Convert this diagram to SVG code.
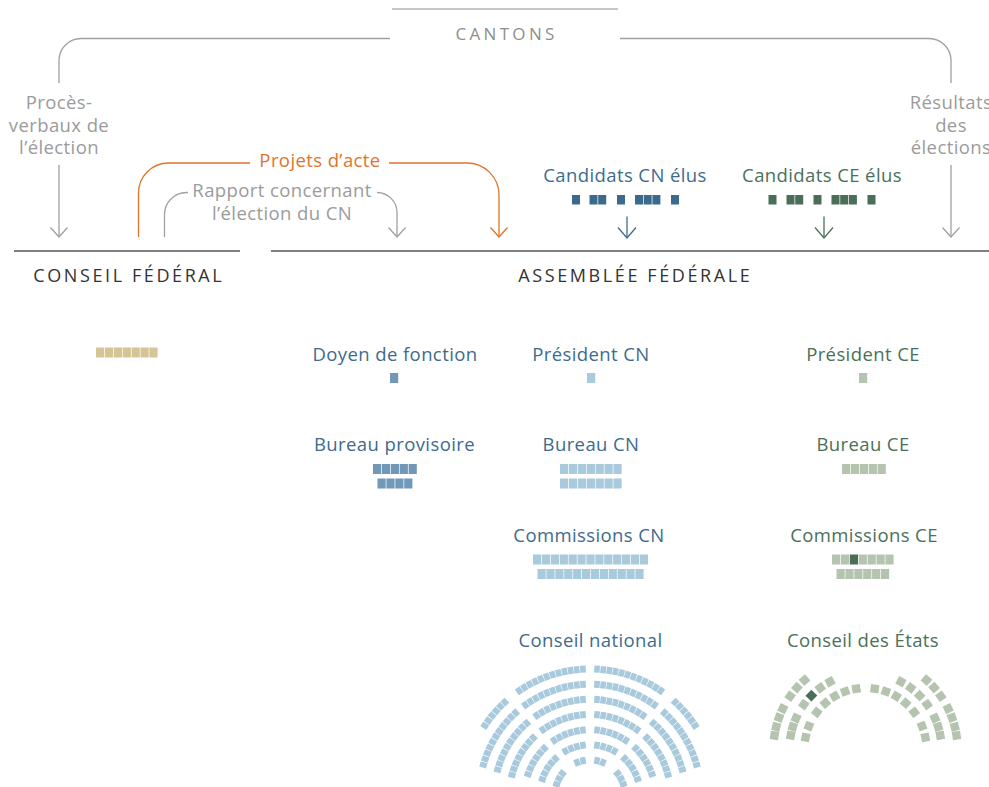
<svg xmlns="http://www.w3.org/2000/svg" width="989" height="787" viewBox="0 0 989 787">
<style>
text{font-family:"Open Sans","Noto Sans",sans-serif;font-size:18.5px;letter-spacing:0.4px;text-anchor:middle}
.grey{fill:#9b9b9b}
.blue{fill:#3d6b8e}
.green{fill:#4a7059}
.orange{fill:#e0742c}
.head{font-size:18px;letter-spacing:2.6px;fill:#333}
.cant{font-size:17px;letter-spacing:3.3px;fill:#8e8e8e}
.cf{fill:#d6c594}
.db{fill:#7198b6}
.ln{fill:#a9c9dc}
.lg{fill:#b5c4ae}
.dn{fill:#3b6a8c}
.dg{fill:#4a6e58}
.c{fill:none;stroke-width:1.3}
.cg{stroke:#a0a0a0}
.co{stroke:#e0742c}
.cb{stroke:#3d6b8e}
.cgr{stroke:#4a7059}
.rule{stroke:#555;stroke-width:1.5}
</style>
<defs>
<marker id="mg" markerUnits="userSpaceOnUse" markerWidth="20" markerHeight="20" orient="auto" overflow="visible"><path d="M-9.5,-8.5L0,0L-9.5,8.5" fill="none" stroke="#a0a0a0" stroke-width="1.3"/></marker>
<marker id="mo" markerUnits="userSpaceOnUse" markerWidth="20" markerHeight="20" orient="auto" overflow="visible"><path d="M-9.5,-8.5L0,0L-9.5,8.5" fill="none" stroke="#e0742c" stroke-width="1.3"/></marker>
<marker id="mb" markerUnits="userSpaceOnUse" markerWidth="20" markerHeight="20" orient="auto" overflow="visible"><path d="M-10.5,-9L0,0L-10.5,9" fill="none" stroke="#3d6b8e" stroke-width="1.3"/></marker>
<marker id="mgr" markerUnits="userSpaceOnUse" markerWidth="20" markerHeight="20" orient="auto" overflow="visible"><path d="M-10.5,-9L0,0L-10.5,9" fill="none" stroke="#4a7059" stroke-width="1.3"/></marker>
<rect id="c0" x="-2.8" y="-38.5" width="5.6" height="7"/>
<rect id="c1" x="-2.8" y="-53.7" width="5.6" height="7"/>
<rect id="c2" x="-2.8" y="-68.8" width="5.6" height="7"/>
<rect id="c3" x="-2.8" y="-84" width="5.6" height="7"/>
<rect id="c4" x="-2.8" y="-99.2" width="5.6" height="7"/>
<rect id="c5" x="-2.8" y="-114.3" width="5.6" height="7"/>
<rect id="c6" x="-2.8" y="-129.5" width="5.6" height="7"/>
<rect id="e0" x="-4.2" y="-65.2" width="8.4" height="8.4"/>
<rect id="e1" x="-4.2" y="-80.2" width="8.4" height="8.4"/>
<rect id="e2" x="-4.2" y="-96.2" width="8.4" height="8.4"/>
</defs>

<g id="cantons">
<line x1="392" y1="9" x2="618" y2="9" stroke="#8e8e8e" stroke-width="1.2"/>
<text class="cant" x="506.6" y="40">CANTONS</text>
</g>

<g id="connectors">
<path class="c cg" d="M390,38.5H81A22,22 0 0 0 59,60.5V83"/>
<path class="c cg" d="M620,38.5H929A22,22 0 0 1 951,60.5V83"/>
<path class="c cg" d="M59,165V237" marker-end="url(#mg)"/>
<path class="c cg" d="M951,165V237" marker-end="url(#mg)"/>
<path class="c co" d="M138.5,237V193A30,30 0 0 1 168.5,163H250"/>
<path class="c co" d="M389,163H467A32,32 0 0 1 499,195V237" marker-end="url(#mo)"/>
<path class="c cg" d="M164.5,237V214.5A22,22 0 0 1 186.5,192.5H188"/>
<path class="c cg" d="M377,192.5A20,20 0 0 1 397,212.5V237" marker-end="url(#mg)"/>
<path class="c cb" d="M627,216.5V238" marker-end="url(#mb)"/>
<path class="c cgr" d="M824,216.5V238" marker-end="url(#mgr)"/>
<text class="grey" x="59" y="109">Procès-<tspan x="59" dy="22.5">verbaux de</tspan><tspan x="59" dy="22.5">l’élection</tspan></text>
<text class="grey" x="951" y="109">Résultats<tspan x="951" dy="22.5">des</tspan><tspan x="951" dy="22.5">élections</tspan></text>
<text class="orange" x="320" y="167">Projets d’acte</text>
<text class="grey" x="282" y="197">Rapport concernant<tspan x="282" dy="23">l’élection du CN</tspan></text>
</g>

<g id="conseil-federal">
<line class="rule" x1="14" y1="251" x2="240" y2="251"/>
<text class="head" x="128.8" y="282">CONSEIL FÉDÉRAL</text>
<g class="cf">
<rect x="96" y="347.5" width="8.2" height="10"/><rect x="104.9" y="347.5" width="8.2" height="10"/><rect x="113.8" y="347.5" width="8.2" height="10"/><rect x="122.7" y="347.5" width="8.2" height="10"/><rect x="131.6" y="347.5" width="8.2" height="10"/><rect x="140.5" y="347.5" width="8.2" height="10"/><rect x="149.4" y="347.5" width="8.2" height="10"/>
</g>
</g>

<g id="assemblee-federale">
<line class="rule" x1="271" y1="251" x2="989" y2="251"/>
<text class="head" x="635.3" y="282">ASSEMBLÉE FÉDÉRALE</text>
</g>

<g id="candidats-cn">
<text class="blue" x="625" y="182">Candidats CN élus</text>
<g class="dn">
<rect x="572" y="195" width="8" height="9.5"/><rect x="589.5" y="195" width="8" height="9.5"/><rect x="598.2" y="195" width="8" height="9.5"/><rect x="617" y="195" width="8" height="9.5"/><rect x="635" y="195" width="8" height="9.5"/><rect x="643.7" y="195" width="8" height="9.5"/><rect x="652.4" y="195" width="8" height="9.5"/><rect x="671" y="195" width="8" height="9.5"/>
</g>
</g>

<g id="candidats-ce">
<text class="green" x="822" y="182">Candidats CE élus</text>
<g class="dg">
<rect x="768.5" y="195" width="8" height="9.5"/><rect x="786.5" y="195" width="8" height="9.5"/><rect x="795.2" y="195" width="8" height="9.5"/><rect x="813.5" y="195" width="8" height="9.5"/><rect x="831.5" y="195" width="8" height="9.5"/><rect x="840.2" y="195" width="8" height="9.5"/><rect x="848.9" y="195" width="8" height="9.5"/><rect x="867.5" y="195" width="8" height="9.5"/>
</g>
</g>

<g id="doyen">
<text class="blue" x="395" y="361">Doyen de fonction</text>
<rect class="db" x="390" y="373" width="8.2" height="10"/>
</g>

<g id="president-cn">
<text class="blue" x="591" y="361">Président CN</text>
<rect class="ln" x="587" y="373" width="8.2" height="10"/>
</g>

<g id="president-ce">
<text class="green" x="863" y="361">Président CE</text>
<rect class="lg" x="859" y="373" width="8.2" height="10"/>
</g>

<g id="bureau-provisoire">
<text class="blue" x="394.5" y="451">Bureau provisoire</text>
<g class="db">
<rect x="373" y="464" width="8.2" height="10"/><rect x="381.9" y="464" width="8.2" height="10"/><rect x="390.8" y="464" width="8.2" height="10"/><rect x="399.7" y="464" width="8.2" height="10"/><rect x="408.6" y="464" width="8.2" height="10"/>
<rect x="377.5" y="478.5" width="8.2" height="10"/><rect x="386.4" y="478.5" width="8.2" height="10"/><rect x="395.3" y="478.5" width="8.2" height="10"/><rect x="404.2" y="478.5" width="8.2" height="10"/>
</g>
</g>

<g id="bureau-cn">
<text class="blue" x="591" y="451">Bureau CN</text>
<g class="ln">
<rect x="560" y="464" width="8.2" height="10"/><rect x="568.9" y="464" width="8.2" height="10"/><rect x="577.8" y="464" width="8.2" height="10"/><rect x="586.7" y="464" width="8.2" height="10"/><rect x="595.6" y="464" width="8.2" height="10"/><rect x="604.5" y="464" width="8.2" height="10"/><rect x="613.4" y="464" width="8.2" height="10"/>
<rect x="560" y="478.5" width="8.2" height="10"/><rect x="568.9" y="478.5" width="8.2" height="10"/><rect x="577.8" y="478.5" width="8.2" height="10"/><rect x="586.7" y="478.5" width="8.2" height="10"/><rect x="595.6" y="478.5" width="8.2" height="10"/><rect x="604.5" y="478.5" width="8.2" height="10"/><rect x="613.4" y="478.5" width="8.2" height="10"/>
</g>
</g>

<g id="bureau-ce">
<text class="green" x="863" y="451">Bureau CE</text>
<g class="lg">
<rect x="842" y="464" width="8.2" height="10"/><rect x="850.9" y="464" width="8.2" height="10"/><rect x="859.8" y="464" width="8.2" height="10"/><rect x="868.7" y="464" width="8.2" height="10"/><rect x="877.6" y="464" width="8.2" height="10"/>
</g>
</g>

<g id="commissions-cn">
<text class="blue" x="589" y="542">Commissions CN</text>
<g class="ln">
<rect x="533" y="554.5" width="8.2" height="10"/><rect x="541.9" y="554.5" width="8.2" height="10"/><rect x="550.8" y="554.5" width="8.2" height="10"/><rect x="559.7" y="554.5" width="8.2" height="10"/><rect x="568.6" y="554.5" width="8.2" height="10"/><rect x="577.5" y="554.5" width="8.2" height="10"/><rect x="586.4" y="554.5" width="8.2" height="10"/><rect x="595.3" y="554.5" width="8.2" height="10"/><rect x="604.2" y="554.5" width="8.2" height="10"/><rect x="613.1" y="554.5" width="8.2" height="10"/><rect x="622" y="554.5" width="8.2" height="10"/><rect x="630.9" y="554.5" width="8.2" height="10"/><rect x="639.8" y="554.5" width="8.2" height="10"/>
<rect x="537.5" y="569" width="8.2" height="10"/><rect x="546.4" y="569" width="8.2" height="10"/><rect x="555.3" y="569" width="8.2" height="10"/><rect x="564.2" y="569" width="8.2" height="10"/><rect x="573.1" y="569" width="8.2" height="10"/><rect x="582" y="569" width="8.2" height="10"/><rect x="590.9" y="569" width="8.2" height="10"/><rect x="599.8" y="569" width="8.2" height="10"/><rect x="608.7" y="569" width="8.2" height="10"/><rect x="617.6" y="569" width="8.2" height="10"/><rect x="626.5" y="569" width="8.2" height="10"/><rect x="635.4" y="569" width="8.2" height="10"/>
</g>
</g>

<g id="commissions-ce">
<text class="green" x="864" y="542">Commissions CE</text>
<g class="lg">
<rect x="832" y="554.5" width="8.2" height="10"/><rect x="840.9" y="554.5" width="8.2" height="10"/><rect class="dg" x="849.8" y="554.5" width="8.2" height="10"/><rect x="858.7" y="554.5" width="8.2" height="10"/><rect x="867.6" y="554.5" width="8.2" height="10"/><rect x="876.5" y="554.5" width="8.2" height="10"/><rect x="885.4" y="554.5" width="8.2" height="10"/>
<rect x="836.5" y="569" width="8.2" height="10"/><rect x="845.4" y="569" width="8.2" height="10"/><rect x="854.3" y="569" width="8.2" height="10"/><rect x="863.2" y="569" width="8.2" height="10"/><rect x="872.1" y="569" width="8.2" height="10"/><rect x="881" y="569" width="8.2" height="10"/>
</g>
</g>

<g id="conseil-national">
<text class="blue" x="590.5" y="647">Conseil national</text>
<g class="ln" transform="translate(590 795)">
<use href="#c6" transform="rotate(-3.2)"/><use href="#c6" transform="rotate(-6.02)"/><use href="#c6" transform="rotate(-8.84)"/><use href="#c6" transform="rotate(-11.66)"/><use href="#c6" transform="rotate(-14.48)"/><use href="#c6" transform="rotate(-17.3)"/><use href="#c6" transform="rotate(-20.12)"/><use href="#c6" transform="rotate(-22.94)"/><use href="#c6" transform="rotate(-25.76)"/><use href="#c6" transform="rotate(-28.58)"/><use href="#c6" transform="rotate(-31.4)"/><use href="#c6" transform="rotate(-34.22)"/><use href="#c6" transform="rotate(-42.5)"/><use href="#c6" transform="rotate(-45.32)"/><use href="#c6" transform="rotate(-48.14)"/><use href="#c6" transform="rotate(-50.96)"/><use href="#c6" transform="rotate(-53.78)"/><use href="#c6" transform="rotate(-56.6)"/>
<use href="#c6" transform="rotate(3.2)"/><use href="#c6" transform="rotate(6.02)"/><use href="#c6" transform="rotate(8.84)"/><use href="#c6" transform="rotate(11.66)"/><use href="#c6" transform="rotate(14.48)"/><use href="#c6" transform="rotate(17.3)"/><use href="#c6" transform="rotate(20.12)"/><use href="#c6" transform="rotate(22.94)"/><use href="#c6" transform="rotate(25.76)"/><use href="#c6" transform="rotate(28.58)"/><use href="#c6" transform="rotate(31.4)"/><use href="#c6" transform="rotate(34.22)"/><use href="#c6" transform="rotate(42.5)"/><use href="#c6" transform="rotate(45.32)"/><use href="#c6" transform="rotate(48.14)"/><use href="#c6" transform="rotate(50.96)"/><use href="#c6" transform="rotate(53.78)"/><use href="#c6" transform="rotate(56.6)"/>
<use href="#c5" transform="rotate(-3.6)"/><use href="#c5" transform="rotate(-6.81)"/><use href="#c5" transform="rotate(-10.02)"/><use href="#c5" transform="rotate(-13.23)"/><use href="#c5" transform="rotate(-16.44)"/><use href="#c5" transform="rotate(-19.65)"/><use href="#c5" transform="rotate(-22.86)"/><use href="#c5" transform="rotate(-26.07)"/><use href="#c5" transform="rotate(-29.28)"/><use href="#c5" transform="rotate(-32.49)"/><use href="#c5" transform="rotate(-35.7)"/><use href="#c5" transform="rotate(-42.12)"/><use href="#c5" transform="rotate(-45.33)"/><use href="#c5" transform="rotate(-48.54)"/><use href="#c5" transform="rotate(-51.75)"/><use href="#c5" transform="rotate(-54.96)"/><use href="#c5" transform="rotate(-58.17)"/><use href="#c5" transform="rotate(-61.38)"/><use href="#c5" transform="rotate(-64.59)"/><use href="#c5" transform="rotate(-67.8)"/><use href="#c5" transform="rotate(-71.01)"/><use href="#c5" transform="rotate(-74.22)"/>
<use href="#c5" transform="rotate(3.6)"/><use href="#c5" transform="rotate(6.81)"/><use href="#c5" transform="rotate(10.02)"/><use href="#c5" transform="rotate(13.23)"/><use href="#c5" transform="rotate(16.44)"/><use href="#c5" transform="rotate(19.65)"/><use href="#c5" transform="rotate(22.86)"/><use href="#c5" transform="rotate(26.07)"/><use href="#c5" transform="rotate(29.28)"/><use href="#c5" transform="rotate(32.49)"/><use href="#c5" transform="rotate(35.7)"/><use href="#c5" transform="rotate(42.12)"/><use href="#c5" transform="rotate(45.33)"/><use href="#c5" transform="rotate(48.54)"/><use href="#c5" transform="rotate(51.75)"/><use href="#c5" transform="rotate(54.96)"/><use href="#c5" transform="rotate(58.17)"/><use href="#c5" transform="rotate(61.38)"/><use href="#c5" transform="rotate(64.59)"/><use href="#c5" transform="rotate(67.8)"/><use href="#c5" transform="rotate(71.01)"/><use href="#c5" transform="rotate(74.22)"/>
<use href="#c4" transform="rotate(-4.2)"/><use href="#c4" transform="rotate(-7.91)"/><use href="#c4" transform="rotate(-11.62)"/><use href="#c4" transform="rotate(-15.33)"/><use href="#c4" transform="rotate(-19.04)"/><use href="#c4" transform="rotate(-22.75)"/><use href="#c4" transform="rotate(-26.46)"/><use href="#c4" transform="rotate(-30.17)"/><use href="#c4" transform="rotate(-33.88)"/><use href="#c4" transform="rotate(-41.3)"/><use href="#c4" transform="rotate(-45.01)"/><use href="#c4" transform="rotate(-48.72)"/><use href="#c4" transform="rotate(-52.43)"/><use href="#c4" transform="rotate(-56.14)"/><use href="#c4" transform="rotate(-59.85)"/><use href="#c4" transform="rotate(-63.56)"/><use href="#c4" transform="rotate(-67.27)"/><use href="#c4" transform="rotate(-70.98)"/><use href="#c4" transform="rotate(-74.69)"/>
<use href="#c4" transform="rotate(4.2)"/><use href="#c4" transform="rotate(7.91)"/><use href="#c4" transform="rotate(11.62)"/><use href="#c4" transform="rotate(15.33)"/><use href="#c4" transform="rotate(19.04)"/><use href="#c4" transform="rotate(22.75)"/><use href="#c4" transform="rotate(26.46)"/><use href="#c4" transform="rotate(30.17)"/><use href="#c4" transform="rotate(33.88)"/><use href="#c4" transform="rotate(41.3)"/><use href="#c4" transform="rotate(45.01)"/><use href="#c4" transform="rotate(48.72)"/><use href="#c4" transform="rotate(52.43)"/><use href="#c4" transform="rotate(56.14)"/><use href="#c4" transform="rotate(59.85)"/><use href="#c4" transform="rotate(63.56)"/><use href="#c4" transform="rotate(67.27)"/><use href="#c4" transform="rotate(70.98)"/><use href="#c4" transform="rotate(74.69)"/>
<use href="#c3" transform="rotate(-5)"/><use href="#c3" transform="rotate(-9.41)"/><use href="#c3" transform="rotate(-13.82)"/><use href="#c3" transform="rotate(-18.23)"/><use href="#c3" transform="rotate(-22.64)"/><use href="#c3" transform="rotate(-27.05)"/><use href="#c3" transform="rotate(-31.46)"/><use href="#c3" transform="rotate(-35.87)"/><use href="#c3" transform="rotate(-44.69)"/><use href="#c3" transform="rotate(-49.1)"/><use href="#c3" transform="rotate(-53.51)"/><use href="#c3" transform="rotate(-57.92)"/><use href="#c3" transform="rotate(-62.33)"/><use href="#c3" transform="rotate(-66.74)"/><use href="#c3" transform="rotate(-71.15)"/><use href="#c3" transform="rotate(-75.56)"/>
<use href="#c3" transform="rotate(5)"/><use href="#c3" transform="rotate(9.41)"/><use href="#c3" transform="rotate(13.82)"/><use href="#c3" transform="rotate(18.23)"/><use href="#c3" transform="rotate(22.64)"/><use href="#c3" transform="rotate(27.05)"/><use href="#c3" transform="rotate(31.46)"/><use href="#c3" transform="rotate(35.87)"/><use href="#c3" transform="rotate(44.69)"/><use href="#c3" transform="rotate(49.1)"/><use href="#c3" transform="rotate(53.51)"/><use href="#c3" transform="rotate(57.92)"/><use href="#c3" transform="rotate(62.33)"/><use href="#c3" transform="rotate(66.74)"/><use href="#c3" transform="rotate(71.15)"/><use href="#c3" transform="rotate(75.56)"/>
<use href="#c2" transform="rotate(-6.2)"/><use href="#c2" transform="rotate(-11.64)"/><use href="#c2" transform="rotate(-17.08)"/><use href="#c2" transform="rotate(-22.52)"/><use href="#c2" transform="rotate(-27.96)"/><use href="#c2" transform="rotate(-33.4)"/><use href="#c2" transform="rotate(-44.28)"/><use href="#c2" transform="rotate(-49.72)"/><use href="#c2" transform="rotate(-55.16)"/><use href="#c2" transform="rotate(-60.6)"/><use href="#c2" transform="rotate(-66.04)"/><use href="#c2" transform="rotate(-71.48)"/>
<use href="#c2" transform="rotate(6.2)"/><use href="#c2" transform="rotate(11.64)"/><use href="#c2" transform="rotate(17.08)"/><use href="#c2" transform="rotate(22.52)"/><use href="#c2" transform="rotate(27.96)"/><use href="#c2" transform="rotate(33.4)"/><use href="#c2" transform="rotate(44.28)"/><use href="#c2" transform="rotate(49.72)"/><use href="#c2" transform="rotate(55.16)"/><use href="#c2" transform="rotate(60.6)"/><use href="#c2" transform="rotate(66.04)"/><use href="#c2" transform="rotate(71.48)"/>
<use href="#c1" transform="rotate(-8)"/><use href="#c1" transform="rotate(-15.08)"/><use href="#c1" transform="rotate(-22.16)"/><use href="#c1" transform="rotate(-29.24)"/><use href="#c1" transform="rotate(-43.4)"/><use href="#c1" transform="rotate(-50.48)"/><use href="#c1" transform="rotate(-57.56)"/><use href="#c1" transform="rotate(-64.64)"/><use href="#c1" transform="rotate(-71.72)"/>
<use href="#c1" transform="rotate(8)"/><use href="#c1" transform="rotate(15.08)"/><use href="#c1" transform="rotate(22.16)"/><use href="#c1" transform="rotate(29.24)"/><use href="#c1" transform="rotate(43.4)"/><use href="#c1" transform="rotate(50.48)"/><use href="#c1" transform="rotate(57.56)"/><use href="#c1" transform="rotate(64.64)"/><use href="#c1" transform="rotate(71.72)"/>
<use href="#c0" transform="rotate(-11.5)"/><use href="#c0" transform="rotate(-21.6)"/><use href="#c0" transform="rotate(-52)"/><use href="#c0" transform="rotate(-62)"/><use href="#c0" transform="rotate(-72)"/>
<use href="#c0" transform="rotate(11.5)"/><use href="#c0" transform="rotate(21.6)"/><use href="#c0" transform="rotate(52)"/><use href="#c0" transform="rotate(62)"/><use href="#c0" transform="rotate(72)"/>
</g>
</g>

<g id="conseil-etats">
<text class="green" x="863" y="647">Conseil des États</text>
<g class="lg" transform="translate(865.5 749)">
<use href="#e0" transform="rotate(-8.7)"/><use href="#e0" transform="rotate(-19.5)"/><use href="#e0" transform="rotate(-30.3)"/><use href="#e0" transform="rotate(-41.2)"/><use href="#e0" transform="rotate(-53)"/><use href="#e0" transform="rotate(-68)"/><use href="#e0" transform="rotate(-79)"/>
<use href="#e0" transform="rotate(8.7)"/><use href="#e0" transform="rotate(19.5)"/><use href="#e0" transform="rotate(30.3)"/><use href="#e0" transform="rotate(41.2)"/><use href="#e0" transform="rotate(53)"/><use href="#e0" transform="rotate(68)"/><use href="#e0" transform="rotate(79)"/>
<use href="#e1" transform="rotate(-27.8)"/><use href="#e1" transform="rotate(-36.5)"/><use href="#e1" class="dg" transform="rotate(-45.4)"/><use href="#e1" transform="rotate(-54.2)"/><use href="#e1" transform="rotate(-66)"/><use href="#e1" transform="rotate(-73)"/><use href="#e1" transform="rotate(-79.6)"/>
<use href="#e1" transform="rotate(27.8)"/><use href="#e1" transform="rotate(36.5)"/><use href="#e1" transform="rotate(45.4)"/><use href="#e1" transform="rotate(54.2)"/><use href="#e1" transform="rotate(66)"/><use href="#e1" transform="rotate(73)"/><use href="#e1" transform="rotate(79.6)"/>
<use href="#e2" transform="rotate(-41.5)"/><use href="#e2" transform="rotate(-48.2)"/><use href="#e2" transform="rotate(-55)"/><use href="#e2" transform="rotate(-64)"/><use href="#e2" transform="rotate(-70)"/><use href="#e2" transform="rotate(-76)"/><use href="#e2" transform="rotate(-81.5)"/>
<use href="#e2" transform="rotate(41.5)"/><use href="#e2" transform="rotate(48.2)"/><use href="#e2" transform="rotate(55)"/><use href="#e2" transform="rotate(64)"/><use href="#e2" transform="rotate(70)"/><use href="#e2" transform="rotate(76)"/><use href="#e2" transform="rotate(81.5)"/>
</g>
</g>
</svg>
